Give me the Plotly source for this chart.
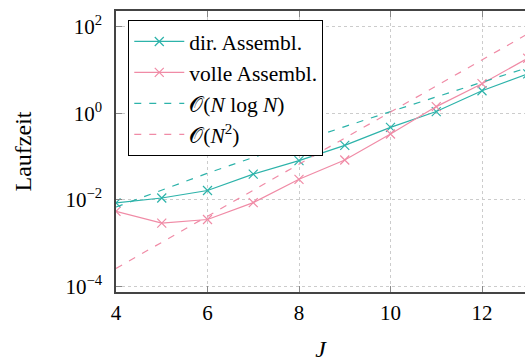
import plotly.graph_objects as go

J = [4, 5, 6, 7, 8, 9, 10, 11, 12, 13]
dir_assembl = [0.0085, 0.011, 0.0164, 0.039, 0.08, 0.18, 0.47, 1.09, 3.3, 8.1]
volle_assembl = [0.0054, 0.0029, 0.0035, 0.0086, 0.0297, 0.083, 0.33, 1.42, 4.8, 18.6]
nlogn = [0.0068, 0.017, 0.041, 0.095, 0.218, 0.49, 1.09, 2.4, 5.2, 11.3]
n2 = [0.00026, 0.00104, 0.0042, 0.0166, 0.066, 0.27, 1.06, 4.2, 17.0, 68.0]

ytickvals = [1e-4, 1e-2, 1, 1e2]
yticktext = ["10<sup>−4</sup>", "10<sup>−2</sup>", "10<sup>0</sup>", "10<sup>2</sup>"]
xtickvals = [4, 6, 8, 10, 12]

teal = "#2db3aa"
pink = "#f08ba6"
FONT = "Liberation Serif"

fig = go.Figure()
fig.add_trace(go.Scatter(x=J, y=dir_assembl, mode="lines+markers", name="dir. Assembl.",
                         line=dict(color=teal, width=1.2),
                         marker=dict(symbol="x-thin", size=9, line=dict(width=1.2, color=teal))))
fig.add_trace(go.Scatter(x=J, y=volle_assembl, mode="lines+markers", name="volle Assembl.",
                         line=dict(color=pink, width=1.2),
                         marker=dict(symbol="x-thin", size=9, line=dict(width=1.2, color=pink))))
fig.add_trace(go.Scatter(x=J, y=nlogn, mode="lines", name="𝒪(<i>N</i> log <i>N</i>)",
                         line=dict(color=teal, width=1.2, dash="7px,8px")))
fig.add_trace(go.Scatter(x=J, y=n2, mode="lines", name="𝒪(<i>N</i><sup>2</sup>)",
                         line=dict(color=pink, width=1.2, dash="7px,8px")))

fig.update_layout(
    width=525, height=363,
    margin=dict(l=116, r=0, t=11, b=71),
    paper_bgcolor="white", plot_bgcolor="white",
    font=dict(family=FONT, size=21, color="black"),
    showlegend=True,
    legend=dict(x=0.03, y=0.968, xanchor="left", yanchor="top",
                bgcolor="white", bordercolor="black", borderwidth=1,
                font=dict(family=FONT, size=21.5), tracegroupgap=0, itemwidth=50),
)
fig.update_xaxes(
    range=[4, 12.94], tickvals=xtickvals, ticks="inside", ticklen=6, tickwidth=1.2,
    tickcolor="#888888", showline=True, linecolor="#444444", linewidth=1.5,
    mirror="ticks", showgrid=True, gridcolor="#cccccc", griddash="dot", gridwidth=1,
    zeroline=False, tickfont=dict(family=FONT, size=21), ticklabelstandoff=1,
    title=dict(text="<i>J</i>", font=dict(family=FONT, size=24), standoff=16),
)
fig.update_yaxes(
    type="log", range=[-4.13, 2.36], tickvals=ytickvals, ticktext=yticktext,
    ticks="inside", ticklen=6, tickwidth=1.2, tickcolor="#888888",
    showline=True, linecolor="#444444", linewidth=1.5,
    showgrid=True, gridcolor="#cccccc", griddash="dot", gridwidth=1,
    zeroline=False, tickfont=dict(family=FONT, size=21), ticklabelstandoff=8,
    title=dict(text="Laufzeit", font=dict(family=FONT, size=24), standoff=27),
)
fig.write_html("out.html", config={"displayModeBar": False},
               post_script="document.body.style.margin='0';document.body.style.overflow='hidden';")
